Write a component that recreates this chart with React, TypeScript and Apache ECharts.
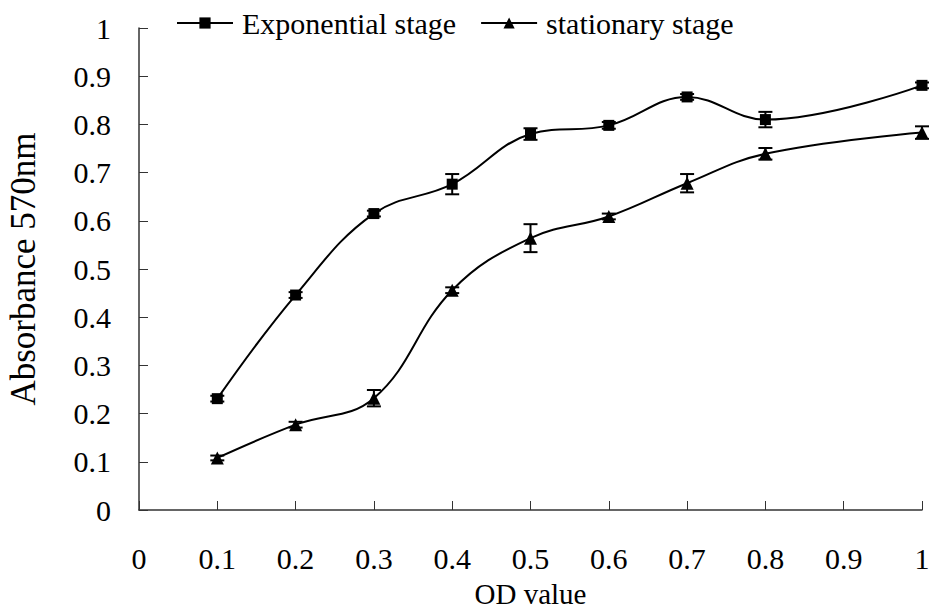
import React, { useEffect, useRef } from "react";
import * as echarts from "echarts";

const odValues = [0.1, 0.2, 0.3, 0.4, 0.5, 0.6, 0.7, 0.8, 1.0];
const exponential = [0.231, 0.446, 0.615, 0.676, 0.78, 0.798, 0.857, 0.81, 0.881];
const exponentialErr = [0.006, 0.006, 0.006, 0.021, 0.012, 0.007, 0.006, 0.016, 0.006];
const stationary = [0.108, 0.177, 0.232, 0.456, 0.564, 0.609, 0.678, 0.739, 0.783];
const stationaryErr = [0.005, 0.006, 0.017, 0.006, 0.029, 0.006, 0.019, 0.012, 0.013];
const seriesNames = ["Exponential stage", "stationary stage"];

const FONT = "Liberation Serif";

function errorData(values: number[], errs: number[]) {
  return odValues.map((x, i) => [x, values[i] - errs[i], values[i] + errs[i]]);
}

function renderError(params: any, api: any) {
  const x = api.value(0);
  const lo = api.coord([x, api.value(1)]);
  const hi = api.coord([x, api.value(2)]);
  const cap = 7;
  const style = { stroke: "#000", lineWidth: 2 };
  return {
    type: "group",
    children: [
      { type: "line", shape: { x1: lo[0], y1: lo[1], x2: hi[0], y2: hi[1] }, style },
      { type: "line", shape: { x1: lo[0] - cap, y1: lo[1], x2: lo[0] + cap, y2: lo[1] }, style },
      { type: "line", shape: { x1: hi[0] - cap, y1: hi[1], x2: hi[0] + cap, y2: hi[1] }, style },
    ],
  };
}

const fmt = (v: number) => String(Number(v.toFixed(1)));

export default function App() {
  const ref = useRef<HTMLDivElement>(null);
  useEffect(() => {
    if (!ref.current) return;
    const chart = echarts.init(ref.current, null, { renderer: "svg" });
    const axisCommon = {
      type: "value" as const,
      min: 0,
      max: 1,
      interval: 0.1,
      splitLine: { show: false },
      axisLine: { show: true, lineStyle: { color: "#333", width: 1.5 } },
      axisTick: { show: true, inside: true, length: 9, lineStyle: { color: "#333", width: 1 } },
      axisLabel: { color: "#000", fontFamily: FONT, fontSize: 30, formatter: fmt },
      nameTextStyle: { color: "#000", fontFamily: FONT, fontSize: 30 },
    };
    chart.setOption({
      animation: false,
      backgroundColor: "#fff",
      grid: {
        left: 139,
        right: 7,
        top: 28,
        bottom: 102,
        containLabel: false,
        outerBoundsMode: "none",
      },
      legend: {
        data: seriesNames,
        left: 171,
        top: 3,
        itemWidth: 56,
        itemHeight: 14,
        itemGap: 24,
        textStyle: { color: "#000", fontFamily: FONT, fontSize: 30, padding: [0, 0, 0, 4] },
      },
      xAxis: {
        ...axisCommon,
        name: "OD value",
        nameLocation: "middle",
        nameGap: 69,
        nameTextStyle: { ...axisCommon.nameTextStyle, fontSize: 29 },
        axisLabel: { ...axisCommon.axisLabel, margin: 33 },
      },
      yAxis: {
        ...axisCommon,
        name: "Absorbance 570nm",
        nameLocation: "middle",
        nameGap: 98,
        nameTextStyle: { ...axisCommon.nameTextStyle, fontSize: 35 },
        axisLabel: { ...axisCommon.axisLabel, margin: 28 },
      },
      series: [
        {
          name: seriesNames[0],
          type: "line",
          smooth: 0.4,
          data: odValues.map((x, i) => [x, exponential[i]]),
          symbol: "rect",
          symbolSize: 11,
          lineStyle: { color: "#000", width: 2 },
          itemStyle: { color: "#000" },
          z: 3,
        },
        {
          name: seriesNames[1],
          type: "line",
          smooth: 0.4,
          data: odValues.map((x, i) => [x, stationary[i]]),
          symbol: "triangle",
          symbolSize: 13,
          lineStyle: { color: "#000", width: 2 },
          itemStyle: { color: "#000" },
          z: 3,
        },
        {
          type: "custom",
          renderItem: renderError,
          data: errorData(exponential, exponentialErr),
          z: 4,
        },
        {
          type: "custom",
          renderItem: renderError,
          data: errorData(stationary, stationaryErr),
          z: 4,
        },
      ],
    });
    return () => chart.dispose();
  }, []);
  return (
    <div
      ref={ref}
      style={{ position: "fixed", left: 0, top: 0, width: 929, height: 612, background: "#fff" }}
    />
  );
}
